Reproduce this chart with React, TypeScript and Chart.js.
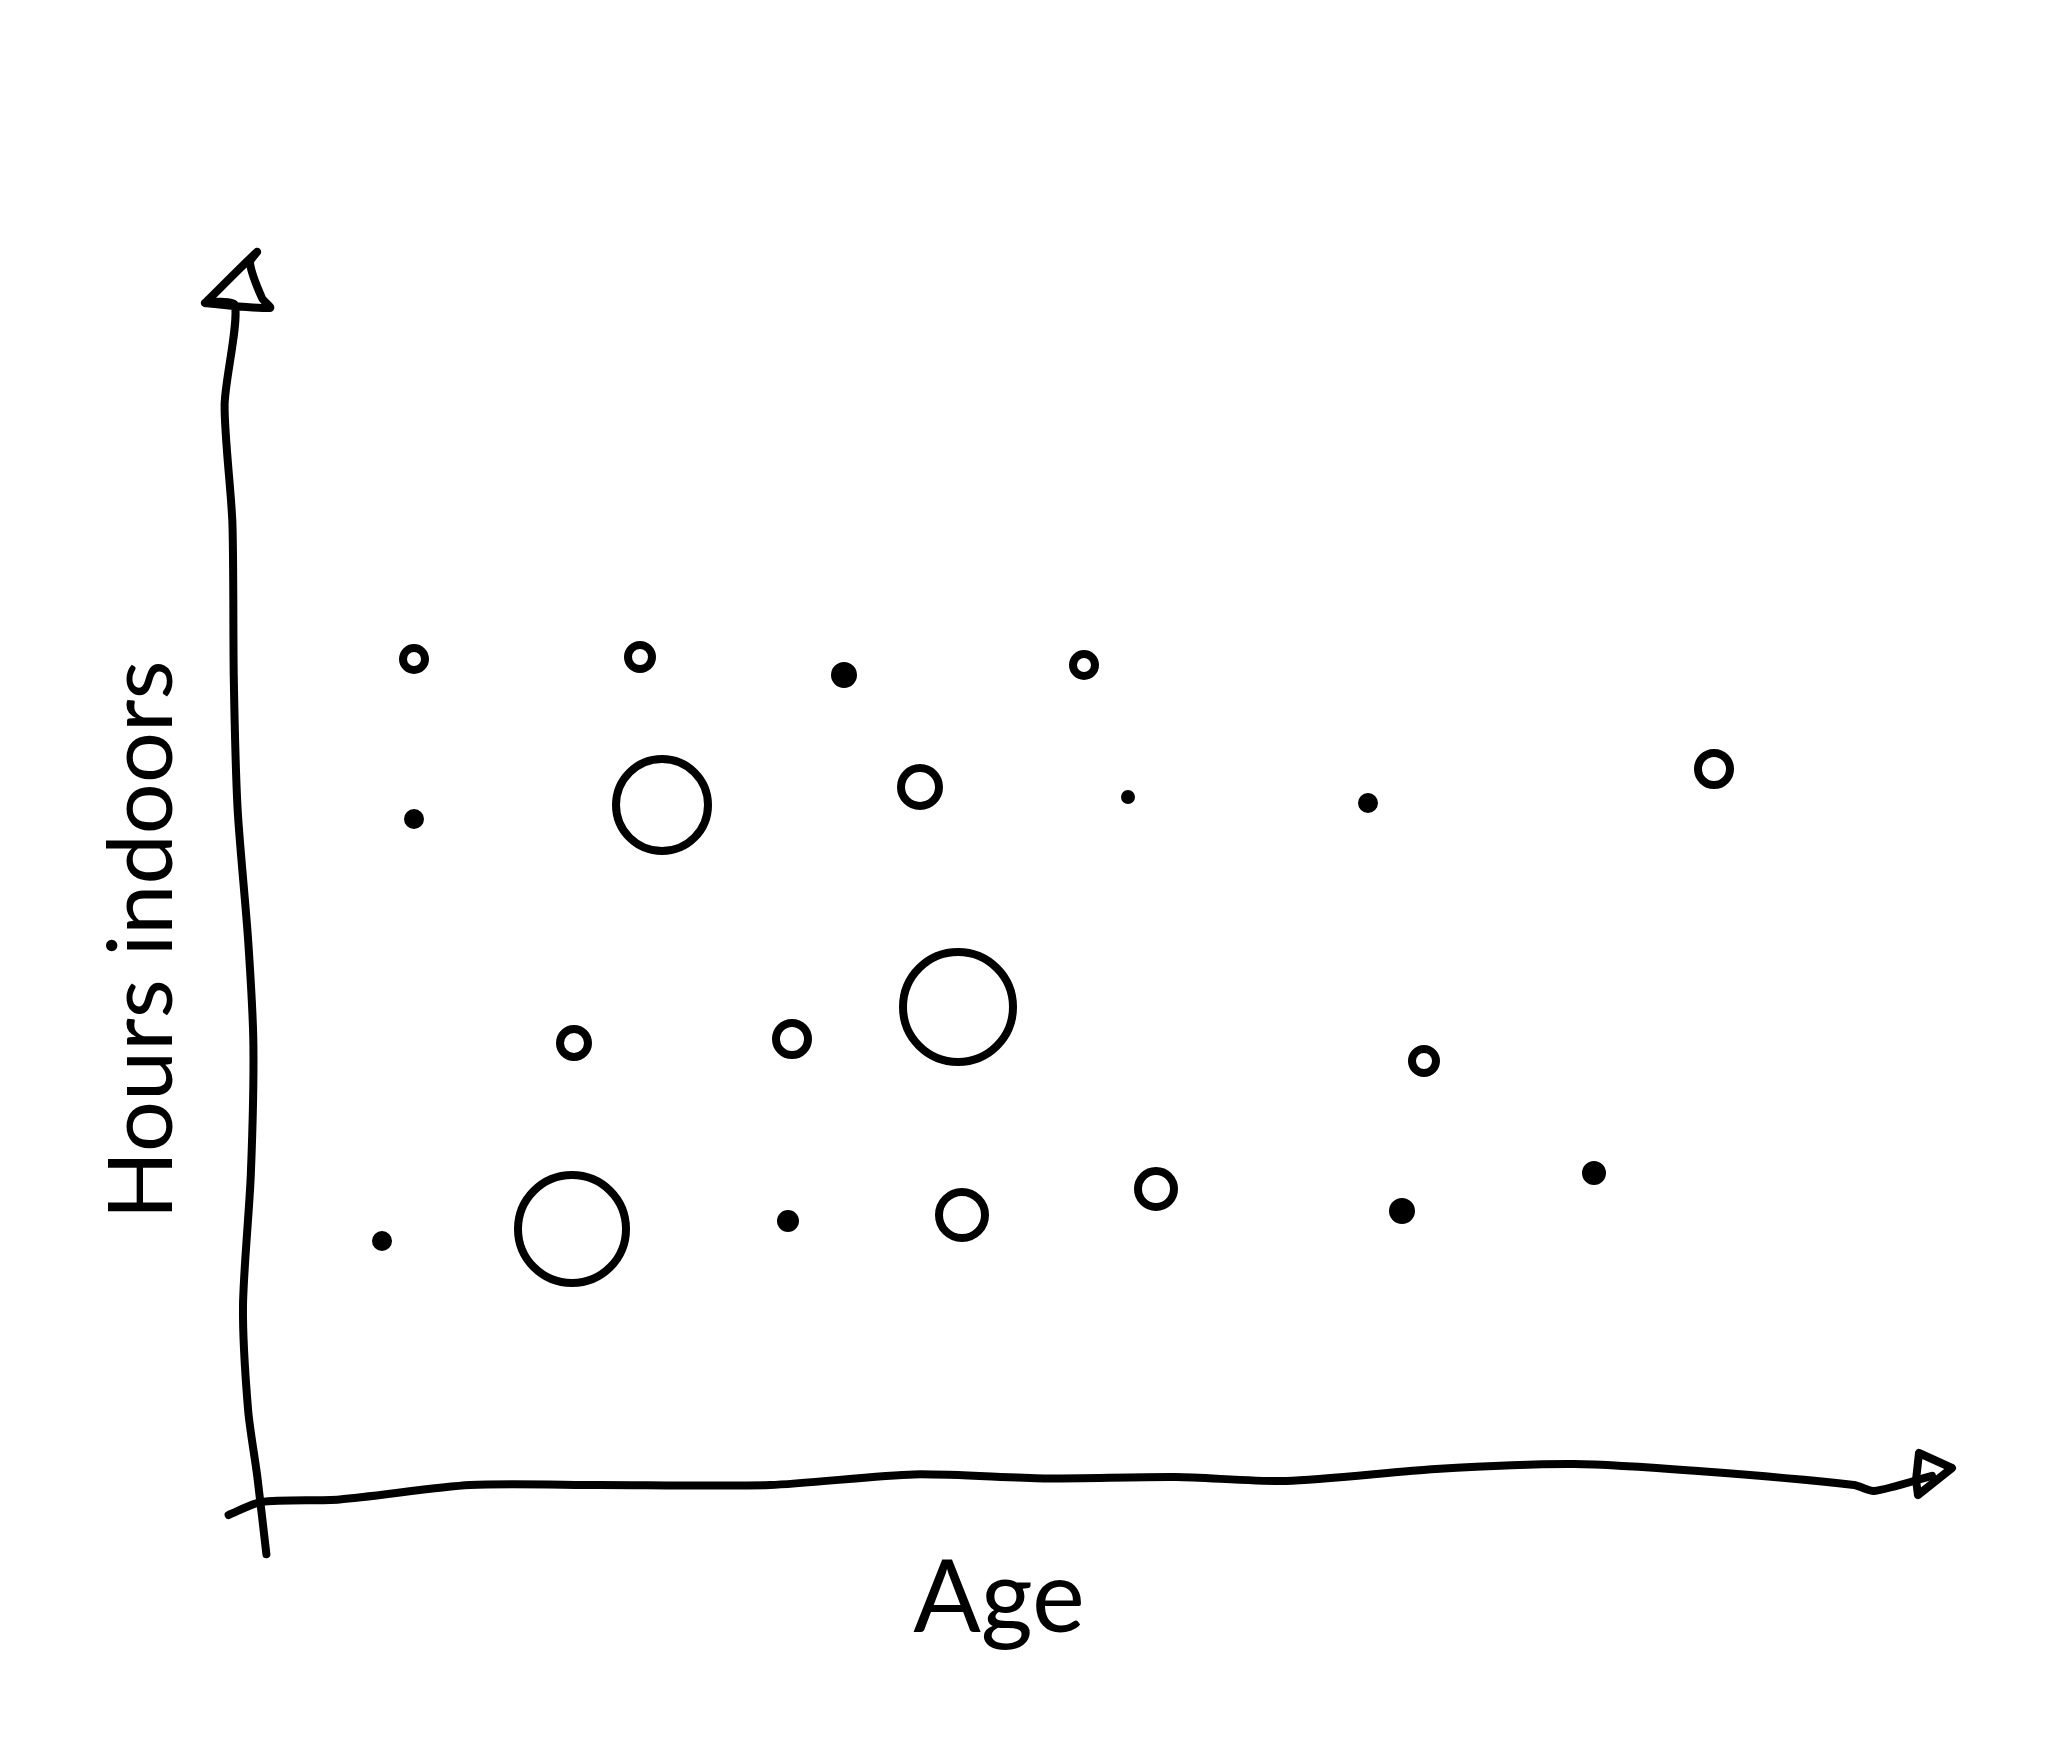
import React, { useEffect, useRef } from "react";
import { Chart, registerables } from "chart.js";

Chart.register(...registerables);

const ages = [7.8, 19.1, 29.3, 41.3, 72.8, 7.8, 20.2, 33.1, 43.5, 55.5, 15.8, 26.7, 35.0, 58.3, 6.2, 15.7, 26.5, 35.2, 44.9, 57.2, 66.8];
const hours = [41.8, 41.9, 41.0, 41.5, 36.3, 33.8, 34.5, 35.4, 34.9, 34.6, 22.6, 22.8, 24.4, 21.7, 12.7, 13.3, 13.7, 14.0, 15.3, 14.2, 16.1];
const sizes = [11, 12, 9, 11, 16, 6, 46, 19, 3, 6, 14, 16, 55, 12, 6, 54, 7, 23, 18, 9, 8];

const yAxisX = [-2.65, -0.05, -0.4, 0.2, 0.6, -2.65, -1.15, -1.67, -1.28, -1.21, -1.02, -0.49, -0.23, -0.36, -0.75, -0.49, -0.04, 0.42];
const yAxisY = [59.6, 62.15, 61.6, 59.85, 59.35, 59.6, 59.5, 54.5, 48.6, 40.8, 34.3, 27.7, 22.5, 16.0, 9.45, 4.2, 0.96, -2.96];
const xAxisX = [-1.47, 0.16, 4.08, 10.6, 17.1, 25.6, 32.8, 39.3, 45.9, 51.4, 58.9, 65.8, 72.0, 79.8, 80.8, 83.7];
const xAxisY = [-1.0, -0.35, -0.22, 0.5, 0.5, 0.5, 1.03, 0.83, 0.9, 0.7, 1.3, 1.55, 1.2, 0.5, 0.2, 0.96];
const arrowX = [83.0, 84.7, 83.05, 82.9, 83.0];
const arrowY = [0.0, 1.35, 2.1, 0.75, 0.0];

const xTitle = "Age";
const yTitle = "Hours indoors";
const ink = "#000000";

const zipXY = (xs: number[], ys: number[]) => xs.map((x, i) => ({ x, y: ys[i] }));

const strokeStyle = {
  type: "line" as const,
  borderColor: ink,
  borderWidth: 8,
  borderCapStyle: "round" as const,
  borderJoinStyle: "round" as const,
  pointRadius: 0,
  fill: false,
  clip: false as const,
};

export default function App() {
  const ref = useRef<HTMLCanvasElement>(null);
  useEffect(() => {
    const chart = new Chart(ref.current!, {
      type: "bubble",
      data: {
        datasets: [
          {
            label: "People",
            data: ages.map((x, i) => ({ x, y: hours[i], r: sizes[i] })),
            borderColor: ink,
            borderWidth: 8,
            backgroundColor: sizes.map((r) => (r <= 9 ? ink : "#ffffff")),
          } as any,
          { ...strokeStyle, label: "Hours axis", data: zipXY(yAxisX, yAxisY), tension: 0.25 } as any,
          { ...strokeStyle, label: "Age axis", data: zipXY(xAxisX, xAxisY), tension: 0.25 } as any,
          { ...strokeStyle, label: "Age arrow", data: zipXY(arrowX, arrowY), tension: 0 } as any,
        ],
      },
      options: {
        responsive: false,
        animation: false,
        events: [],
        layout: { autoPadding: false, padding: { left: 0, right: 90, top: 240, bottom: 0 } },
        plugins: { legend: { display: false }, tooltip: { enabled: false } },
        scales: {
          x: {
            type: "linear",
            min: -10.9,
            max: 85,
            grid: { display: false, drawTicks: false },
            border: { display: false },
            ticks: { display: false },
            title: {
              display: true,
              text: xTitle,
              color: ink,
              font: { family: "Lato", size: 100, lineHeight: 1.2 },
              padding: { top: -100, bottom: 92 },
            },
          },
          y: {
            type: "linear",
            min: -7.25,
            max: 62.75,
            grid: { display: false, drawTicks: false },
            border: { display: false },
            ticks: { display: false },
            title: {
              display: true,
              text: yTitle,
              color: ink,
              font: { family: "Lato", size: 90, lineHeight: 1.2 },
              padding: { top: 89, bottom: -157 },
            },
          },
        },
      },
    });
    return () => chart.destroy();
  }, []);
  return (
    <div style={{ position: "absolute", left: 0, top: 0, width: 2048, height: 1752, background: "#ffffff" }}>
      <canvas ref={ref} width={2048} height={1752} style={{ display: "block" }} />
    </div>
  );
}
